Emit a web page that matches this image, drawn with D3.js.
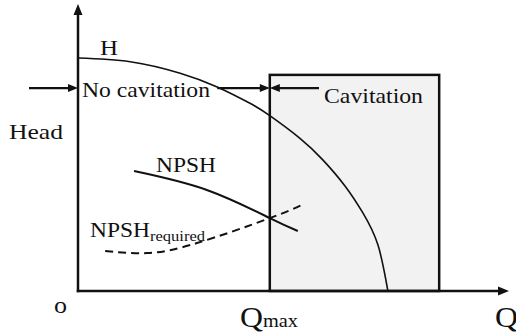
<!DOCTYPE html>
<html>
<head>
<meta charset="utf-8">
<script src="https://cdn.jsdelivr.net/npm/d3@7"></script>
<style>
  body { margin: 0; background: #fff; }
</style>
</head>
<body>
<svg id="chart" width="516" height="335"></svg>
<script>
// pump curves, flow Q on x (0-100), head on y (0-100)
var headQ   = [0, 12.1, 23.7, 32.3, 39.9, 44.5, 51.5, 56.8, 61.9, 66.1, 69.6, 71.9];
var headH   = [81.2, 79.9, 75.9, 71.1, 65.4, 61.1, 53.2, 45.7, 36.7, 27.2, 16.0, 0];
var npshQ   = [13.0, 29.9, 44.5, 51.0];
var npshH   = [41.8, 35.2, 25.4, 20.9];
var reqQ    = [6.3, 16.0, 27.6, 44.5, 52.0];
var reqH    = [13.9, 13.2, 16.7, 25.4, 30.0];
var qMax    = 44.5;
var qEnd    = 83.8;   // right edge of cavitation zone
var zoneTop = 75.3;
var markLevel = 70.7; // level of the cavitation arrows

var
  serif = '"Liberation Serif", "Times New Roman", "DejaVu Serif", serif',
  svg = d3.select('#chart'),
  x = d3.scaleLinear().domain([0, 100]).range([78, 509]),
  y = d3.scaleLinear().domain([0, 100]).range([291, 4]),
  line = d3.line().x(d => x(d[0])).y(d => y(d[1])).curve(d3.curveNatural)
  ;

// cavitation zone
svg.append('rect')
  .attr('x', x(qMax))
  .attr('y', y(zoneTop))
  .attr('width', x(qEnd) - x(qMax))
  .attr('height', y(0) - y(zoneTop))
  .attr('fill', '#f2f2f2')
  .attr('stroke', '#111')
  .attr('stroke-width', 2.5);

// H curve
svg.append('path')
  .attr('d', line(d3.zip(headQ, headH)))
  .attr('fill', 'none')
  .attr('stroke', '#111')
  .attr('stroke-width', 1.6);

// NPSH available
svg.append('path')
  .attr('d', line(d3.zip(npshQ, npshH)))
  .attr('fill', 'none')
  .attr('stroke', '#111')
  .attr('stroke-width', 2);

// NPSH required
svg.append('path')
  .attr('d', line(d3.zip(reqQ, reqH)))
  .attr('fill', 'none')
  .attr('stroke', '#111')
  .attr('stroke-width', 2)
  .attr('stroke-dasharray', '8,5');

function arrow(x1, y1, x2, y2, w, len, half) {
  var dx = x2 - x1, dy = y2 - y1, l = Math.hypot(dx, dy), ux = dx / l, uy = dy / l;
  svg.append('line')
    .attr('x1', x1).attr('y1', y1)
    .attr('x2', x2 - ux * (len - 2)).attr('y2', y2 - uy * (len - 2))
    .attr('stroke', '#111').attr('stroke-width', w);
  var bx = x2 - ux * len, by = y2 - uy * len;
  svg.append('path')
    .attr('d', `M${x2},${y2}L${bx - uy * half},${by + ux * half}L${bx + uy * half},${by - ux * half}Z`)
    .attr('fill', '#111');
}

// axes
arrow(x(0), y(0) + 1.25, x(0), 4, 2.5, 11, 4.5);
arrow(x(0) - 1.25, y(0), 509, y(0), 2.5, 11, 4.5);

// cavitation marks
arrow(29, y(markLevel), x(0), y(markLevel), 2.2, 10, 4);
arrow(x(32.3), y(markLevel), x(qMax), y(markLevel), 2.2, 10, 4);
arrow(319, y(markLevel), x(qMax), y(markLevel), 2.2, 10, 4);

// labels
function label(tx, ty, size, txt, len) {
  var t = svg.append('text')
    .attr('x', tx).attr('y', ty)
    .attr('font-family', serif)
    .attr('font-size', size)
    .attr('fill', '#111')
    .text(txt);
  if (len) t.attr('textLength', len).attr('lengthAdjust', 'spacingAndGlyphs');
  return t;
}
var fs = 22;
label(100, 55, fs, 'H', 18);
label(82, 97, fs, 'No cavitation', 128);
label(324, 103, fs, 'Cavitation', 99);
label(9, 139, fs, 'Head', 54);
label(156, 172, fs, 'NPSH', 60);
var req = label(90, 237, fs, '');
req.append('tspan').attr('textLength', 60).attr('lengthAdjust', 'spacingAndGlyphs').text('NPSH');
req.append('tspan').attr('font-size', 15).attr('dy', 4)
  .attr('textLength', 55).attr('lengthAdjust', 'spacingAndGlyphs').text('required');
label(54, 313, 24, 'o', 13);
var qm = label(240, 327, 29, '');
qm.append('tspan').attr('textLength', 23).attr('lengthAdjust', 'spacingAndGlyphs').text('Q');
qm.append('tspan').attr('font-size', 18)
  .attr('textLength', 35).attr('lengthAdjust', 'spacingAndGlyphs').text('max');
label(495, 327, 29, 'Q', 23);
</script>
</body>
</html>
